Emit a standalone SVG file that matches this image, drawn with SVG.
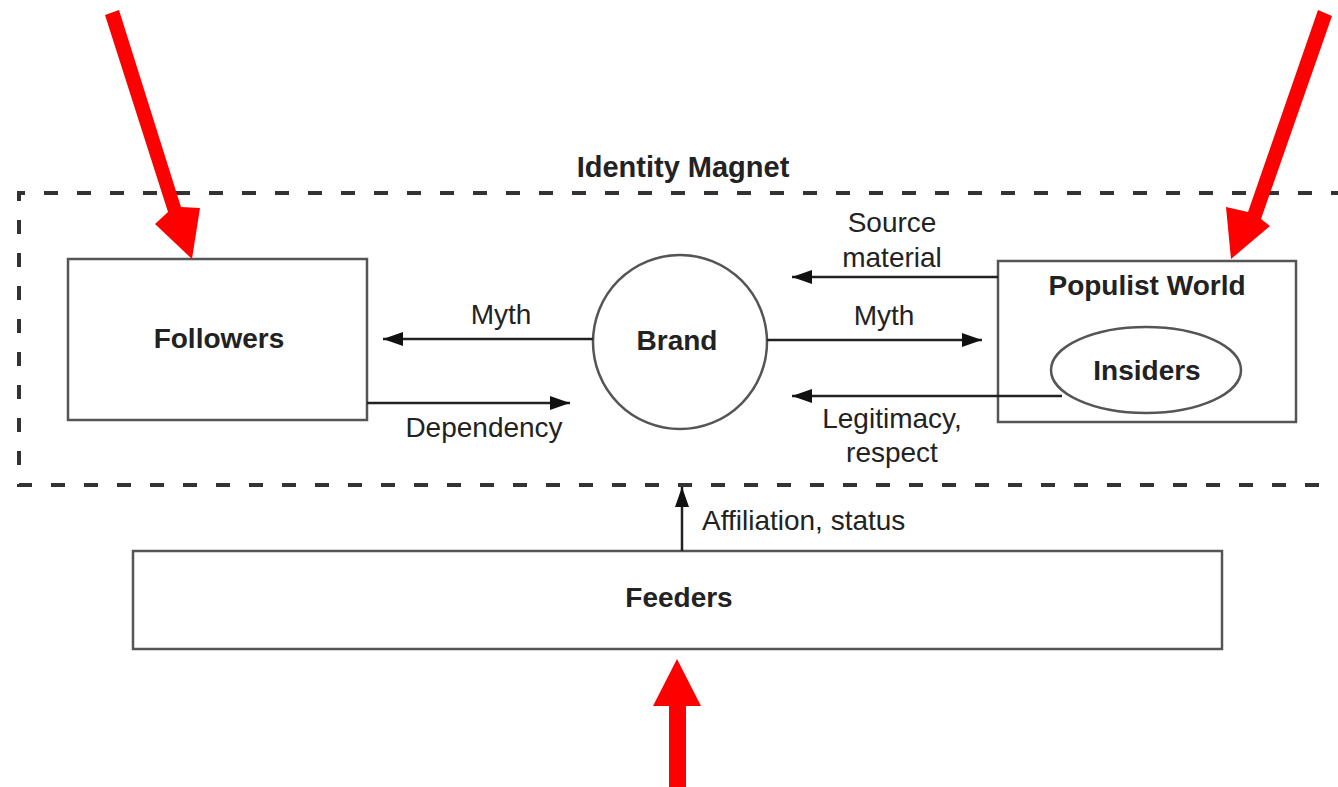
<svg xmlns="http://www.w3.org/2000/svg" width="1338" height="787" viewBox="0 0 1338 787">
<style>
.box{fill:#fff;stroke:#555;stroke-width:2.5}
.edge{fill:none;stroke:#222;stroke-width:2.5}
.node{font-family:"Liberation Sans",Arial,sans-serif;font-weight:bold;font-size:28px;fill:#222;text-anchor:middle}
.lbl{font-family:"Liberation Sans",Arial,sans-serif;font-size:28px;fill:#222;text-anchor:middle}
.title{font-family:"Liberation Sans",Arial,sans-serif;font-weight:bold;font-size:29px;fill:#222;text-anchor:middle}
.start{text-anchor:start}
.red{fill:#ff0000}
</style>
<defs>
<marker id="ah" viewBox="0 0 20 14" refX="20" refY="7" markerWidth="20" markerHeight="14" markerUnits="userSpaceOnUse" orient="auto">
<path d="M0,0 L20,7 L0,14 Z" fill="#111"/>
</marker>
</defs>
<rect width="1338" height="787" fill="#fff"/>
<g id="identity-magnet">
<path d="M1345,193 L19,193 L19,485 L1345,485" fill="none" stroke="#333" stroke-width="4" stroke-dasharray="14,19"/>
<text class="title" x="683" y="177">Identity Magnet</text>
</g>
<g id="followers">
<rect class="box" x="68" y="259" width="299" height="161"/>
<text class="node" x="219" y="348">Followers</text>
</g>
<g id="brand">
<circle class="box" cx="680" cy="342" r="87"/>
<text class="node" x="677" y="350">Brand</text>
</g>
<g id="populist-world">
<rect class="box" x="998" y="261" width="298" height="161"/>
<text class="node" x="1147" y="295">Populist World</text>
</g>
<g id="insiders">
<ellipse class="box" cx="1146" cy="370" rx="95" ry="43"/>
<text class="node" x="1147" y="380">Insiders</text>
</g>
<g id="feeders">
<rect class="box" x="133" y="551" width="1089" height="98"/>
<text class="node" x="679" y="607">Feeders</text>
</g>
<g id="connectors">
<line class="edge" x1="593" y1="339" x2="383" y2="339" marker-end="url(#ah)"/>
<line class="edge" x1="367" y1="403" x2="570" y2="403" marker-end="url(#ah)"/>
<line class="edge" x1="998" y1="277" x2="792" y2="277" marker-end="url(#ah)"/>
<line class="edge" x1="767" y1="340" x2="982" y2="340" marker-end="url(#ah)"/>
<line class="edge" x1="1062" y1="396" x2="792" y2="396" marker-end="url(#ah)"/>
<line class="edge" x1="682" y1="551" x2="682" y2="487" marker-end="url(#ah)"/>
<text class="lbl" x="501" y="324">Myth</text>
<text class="lbl" x="484" y="437">Dependency</text>
<text class="lbl" x="892" y="232">Source</text>
<text class="lbl" x="892" y="267">material</text>
<text class="lbl" x="884" y="325">Myth</text>
<text class="lbl" x="892" y="428">Legitimacy,</text>
<text class="lbl" x="892" y="462">respect</text>
<text class="lbl start" x="702" y="530">Affiliation, status</text>
</g>
<g id="red-arrows">
<polygon class="red" points="105,15 119,10 181,207 200,208 192,259 155,224 168,212"/>
<polygon class="red" points="1318,10 1332,16 1261,219 1270,226 1231,259 1226,207 1248,212"/>
<polygon class="red" points="669,787 686,787 686,706 701,706 677,659 653,706 669,706"/>
</g>
</svg>
